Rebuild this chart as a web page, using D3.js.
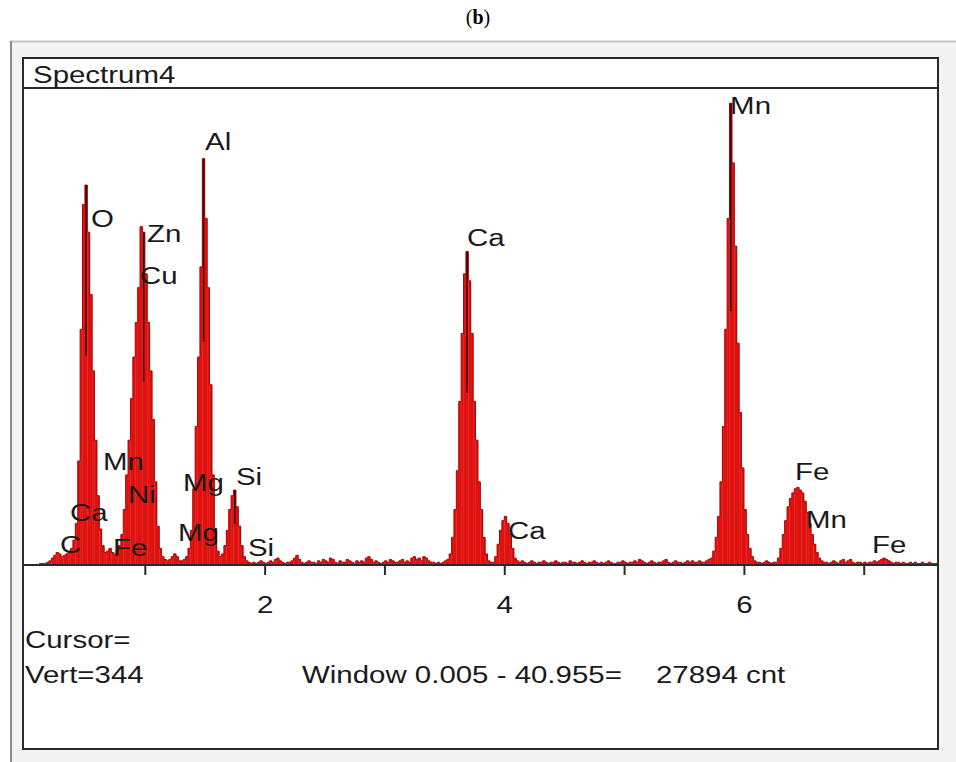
<!DOCTYPE html>
<html>
<head>
<meta charset="utf-8">
<script src="https://cdn.jsdelivr.net/npm/d3@7"></script>
<style>
  html, body { margin: 0; padding: 0; background: #ffffff; }
  svg { display: block; }
  text { font-family: "Liberation Sans", Arial, sans-serif; fill: #1a1a1a; }
</style>
</head>
<body>
<svg id="chart" width="956" height="762"></svg>
<script>
// ---------- DATA ----------
const channelWidth = 0.02;          // keV per channel
const energyMax = 7.62;             // keV shown
const vertFullScale = 344;          // counts at top of plot (Vert=344)
// counts per channel, 0.00 - 7.62 keV
const counts = [
  0,0,0,0,0,0,1,1,1,2,3,5,7,9,8,6,7,8,10,12,
  18,30,75,170,260,274,240,195,140,90,50,26,14,9,10,12,9,8,10,14,
  22,40,65,90,120,150,175,200,244,240,210,175,140,105,60,28,12,6,4,3,
  4,6,8,6,3,3,4,6,12,25,55,100,150,215,293,250,200,130,65,25,
  10,6,8,14,25,40,50,54,42,28,14,6,3,2,1,2,1,2,3,2,
  1,2,3,2,4,5,3,2,1,2,2,3,5,7,4,2,1,2,3,2,
  2,1,3,2,4,3,2,5,4,2,1,3,2,2,4,3,2,1,3,2,
  3,2,5,6,4,2,3,2,1,2,3,2,4,3,2,2,3,4,2,3,
  2,5,6,4,5,3,6,5,3,2,2,1,2,1,2,3,4,8,20,40,
  68,118,167,210,226,205,167,118,90,60,40,20,8,3,2,2,6,15,25,32,
  35,30,22,12,5,3,2,3,2,1,2,3,2,1,2,2,3,2,1,2,
  2,3,2,1,2,2,1,3,2,2,1,2,3,2,1,2,2,3,2,1,
  2,1,2,3,2,1,1,2,2,3,2,1,2,2,3,2,4,3,2,1,
  2,3,2,1,2,2,3,4,2,1,2,3,2,2,1,2,3,2,3,2,
  2,3,2,2,3,4,5,10,20,35,60,100,170,250,333,290,230,160,110,70,
  40,22,12,6,3,2,2,1,2,3,2,1,2,2,5,12,22,32,42,48,
  52,55,56,54,52,46,38,30,22,15,9,5,3,2,2,1,2,3,2,1,
  3,4,2,3,4,2,1,2,2,1,2,1,2,2,3,2,3,4,5,4,
  3,2,1,2,2,1,2,1,1,2,1,2,1,1,2,1,1,2,1,1,1
];
const xTickValues = [1, 2, 3, 4, 5, 6, 7];
const xTickLabels = ["", "2", "", "4", "", "6", ""];
// element markers: text, energy of label start (keV), label baseline (counts)
const labelText   = ["O", "Zn", "Cu", "Al", "Ca", "Mn", "Mn", "Ni", "Mg", "Si", "Ca", "Mg", "C", "Fe", "Si", "Ca", "Fe", "Mn", "Fe"];
const labelEnergy = [0.551, 1.018, 0.960, 1.503, 3.690, 5.885, 0.651, 0.860, 1.319, 1.761, 0.376, 1.277, 0.292, 0.735, 1.861, 4.032, 6.427, 6.519, 7.070];
const labelCount  = [244, 233, 203, 299, 230, 325, 68.5, 44.7, 53.4, 57.7, 31.7, 17.3, 8.7, 6.5, 6.5, 18.7, 61.3, 26.7, 8.7];
// energies of main peaks with a dark marker line
const markerEnergy = [0.51, 0.99, 1.49, 1.75, 3.69, 5.89];
const spectrumName = "Spectrum4";
const cursorText = "Cursor=";
const vertText = "Vert=344";
const windowText = "Window 0.005 - 40.955=";
const cntText = "27894 cnt";

// ---------- LAYOUT ----------
const svg = d3.select("#chart");
const SX = 1.28; // horizontal stretch of the screen font
const fontPx = 23;

// outer window frame
svg.append("rect").attr("x", 11).attr("y", 41).attr("width", 960).attr("height", 740)
  .attr("fill", "#f3f3f3");
svg.append("line").attr("x1", 10).attr("x2", 956).attr("y1", 41.5).attr("y2", 41.5)
  .attr("stroke", "#c6c6c6").attr("stroke-width", 2);
svg.append("line").attr("x1", 11).attr("x2", 11).attr("y1", 41).attr("y2", 762)
  .attr("stroke", "#8c8c8c").attr("stroke-width", 2);

// inner box
const box = {x: 23, y: 58, w: 915, h: 691};
svg.append("rect").attr("x", box.x).attr("y", box.y).attr("width", box.w).attr("height", box.h)
  .attr("fill", "#ffffff").attr("stroke", "#2a2a2a").attr("stroke-width", 2);
svg.append("line").attr("x1", box.x).attr("x2", box.x + box.w).attr("y1", 88).attr("y2", 88)
  .attr("stroke", "#2a2a2a").attr("stroke-width", 2);

// title (b)
const title = svg.append("text").attr("x", 478).attr("y", 24).attr("text-anchor", "middle")
  .style("font-family", "'Liberation Serif', 'Times New Roman', serif").style("font-size", "20px").style("fill", "#000");
title.append("tspan").text("(");
title.append("tspan").style("font-weight", "bold").text("b");
title.append("tspan").text(")");

function stretchedText(x, y, str, anchor) {
  return svg.append("text")
    .attr("transform", `translate(${x},${y}) scale(${SX},1)`)
    .attr("text-anchor", anchor || "start")
    .style("font-size", fontPx + "px")
    .text(str);
}

stretchedText(33, 83, spectrumName);

// ---------- SCALES ----------
const x = d3.scaleLinear().domain([0, energyMax]).range([25, 938]);
const y = d3.scaleLinear().domain([0, vertFullScale]).range([565, 88]);

// ---------- SPECTRUM ----------
const chans = counts.map((c, i) => ({e0: i * channelWidth, e1: Math.min((i + 1) * channelWidth, energyMax), c}));
const plot = svg.append("g");
plot.selectAll("rect.ch").data(chans).join("rect")
  .attr("class", "ch")
  .attr("x", d => x(d.e0))
  .attr("width", d => x(d.e1) - x(d.e0) + 0.3)
  .attr("y", d => y(d.c))
  .attr("height", d => y(0) - y(d.c))
  .attr("fill", "#e0120f");

// outline of the histogram
const stepPts = [];
chans.forEach(d => { stepPts.push([d.e0, d.c]); stepPts.push([d.e1, d.c]); });
plot.append("path")
  .attr("d", d3.line().x(p => x(p[0])).y(p => y(p[1]))(stepPts))
  .attr("fill", "none").attr("stroke", "#a30a0a").attr("stroke-width", 1);

// dark marker lines in main peaks
plot.selectAll("line.mk").data(markerEnergy).join("line")
  .attr("class", "mk")
  .attr("x1", e => x(e)).attr("x2", e => x(e))
  .attr("y1", e => y(counts[Math.floor(e / channelWidth)]))
  .attr("y2", e => y(counts[Math.floor(e / channelWidth)] * 0.55))
  .attr("stroke", "#3a0505").attr("stroke-width", 1.6);

// ---------- AXIS ----------
const axis = d3.axisBottom(x).tickValues(xTickValues).tickSize(10).tickSizeOuter(0)
  .tickFormat((d, i) => xTickLabels[i]);
const ag = svg.append("g").attr("transform", "translate(0,565)").call(axis);
ag.select(".domain").attr("d", `M${box.x},0H${box.x + box.w}`).attr("stroke", "#2a2a2a").attr("stroke-width", 2);
ag.selectAll(".tick line").attr("stroke", "#2a2a2a").attr("stroke-width", 2);
ag.selectAll(".tick text")
  .attr("y", 0).attr("dy", null)
  .attr("transform", `translate(0,48) scale(${SX},1)`)
  .style("font-size", fontPx + "px").style("font-family", "'Liberation Sans', Arial, sans-serif")
  .attr("fill", "#1a1a1a");

// ---------- ELEMENT LABELS ----------
svg.append("g").selectAll("text").data(labelText).join("text")
  .attr("transform", (t, i) => `translate(${x(labelEnergy[i])},${y(labelCount[i])}) scale(${SX},1)`)
  .style("font-size", fontPx + "px")
  .text(t => t);

// ---------- FOOTER ----------
stretchedText(25, 648, cursorText);
stretchedText(25, 683, vertText);
stretchedText(302, 683, windowText);
stretchedText(656, 683, cntText);
</script>
</body>
</html>
